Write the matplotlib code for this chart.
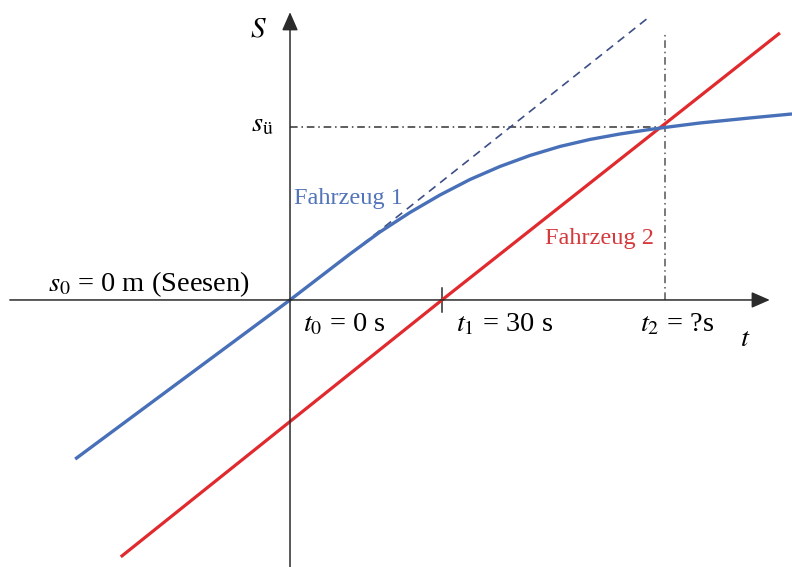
import matplotlib
matplotlib.use("Agg")
import matplotlib.pyplot as plt

plt.rcParams["font.family"] = ["Liberation Serif", "DejaVu Serif"]
plt.rcParams["mathtext.fontset"] = "stix"

# Fahrzeug 1: time (s) and position (arbitrary distance units)
t_fz1 = [-42.4, 0.0, 5.92, 11.84, 17.76, 23.68, 29.61, 35.53, 41.45, 47.37,
         53.29, 59.21, 65.13, 71.05, 74.0, 80.92, 90.79, 99.08]
s_fz1 = [-31.4, 0.0, 4.54, 9.08, 13.42, 17.27, 20.72, 23.78, 26.35, 28.52,
         30.30, 31.68, 32.76, 33.65, 34.05, 34.93, 35.92, 36.71]

# Fahrzeug 2: starts at t1 = 30 s, constant speed
t_fz2 = [-33.4, 30.0, 96.7]
s_fz2 = [-50.7, 0.0, 52.7]

# Tangent to Fahrzeug 1 at t0 (constant initial speed)
t_tan = [9.9, 70.7]
s_tan = [7.5, 55.7]

# Meeting point
t_meet = 74.0
s_meet = 34.05
t_start2 = 30.0

# Axis extents
t_axis = [-55.3, 94.7]
s_axis = [-52.7, 56.8]

BLUE = "#4870b8"
RED = "#e02a2e"
AX = "#2b2b2b"

fig = plt.figure(figsize=(7.92, 5.67), dpi=100)
ax = fig.add_axes([0, 0, 1, 1])
ax.set_xlim(-57.24, 99.08)
ax.set_ylim(-52.7, 59.2)
ax.axis("off")

arrow = dict(arrowstyle="-|>,head_length=0.8,head_width=0.35", lw=1.1,
             color=AX, mutation_scale=14, shrinkA=0, shrinkB=0)
ax.annotate("", xy=(t_axis[1], 0), xytext=(t_axis[0], 0), arrowprops=arrow)
ax.annotate("", xy=(0, s_axis[1]), xytext=(0, s_axis[0]), arrowprops=arrow)

# tick at t1
ax.plot([t_start2, t_start2], [-2.4, 2.4], color=AX, lw=1.1)

# helper lines
ax.plot([0, t_meet], [s_meet, s_meet], color="#333333", lw=1.1,
        linestyle=(0, (5, 2.5, 1, 2.5)))
ax.plot([t_meet, t_meet], [0, 52.9], color="#555555", lw=1.1,
        linestyle=(0, (5, 2.5, 1, 2.5)))
ax.plot(t_tan, s_tan, color="#3d4f86", lw=1.2, linestyle=(0, (5, 3.5)))

# vehicles
ax.plot(t_fz2, s_fz2, color=RED, lw=2.3, solid_capstyle="butt")
ax.plot(t_fz1, s_fz1, color=BLUE, lw=2.4, solid_capstyle="butt",
        solid_joinstyle="round")

fs = 20.5
ax.text(-6.3, 53.3, "$S$", fontsize=21, ha="center", va="center")
ax.text(-3.2, 34.6, r"$s_\mathrm{ü}$", fontsize=fs, ha="right", va="center")
ax.text(-7.8, 3.2, r"$s_0$ = 0 m (Seesen)", fontsize=fs, ha="right", va="center")
ax.text(2.6, -4.9, r"$t_0$ = 0 s", fontsize=fs, ha="left", va="center")
ax.text(32.8, -4.9, r"$t_1$ = 30 s", fontsize=fs, ha="left", va="center")
ax.text(69.1, -4.9, r"$t_2$ = ?s", fontsize=fs, ha="left", va="center")
ax.text(89.8, -7.9, "$t$", fontsize=fs, ha="center", va="center")
ax.text(0.8, 20.1, "Fahrzeug 1", fontsize=17.5, color="#5274b8", ha="left", va="center")
ax.text(50.3, 12.2, "Fahrzeug 2", fontsize=17.5, color="#d5393c", ha="left", va="center")

fig.savefig("out.png", dpi=100)
